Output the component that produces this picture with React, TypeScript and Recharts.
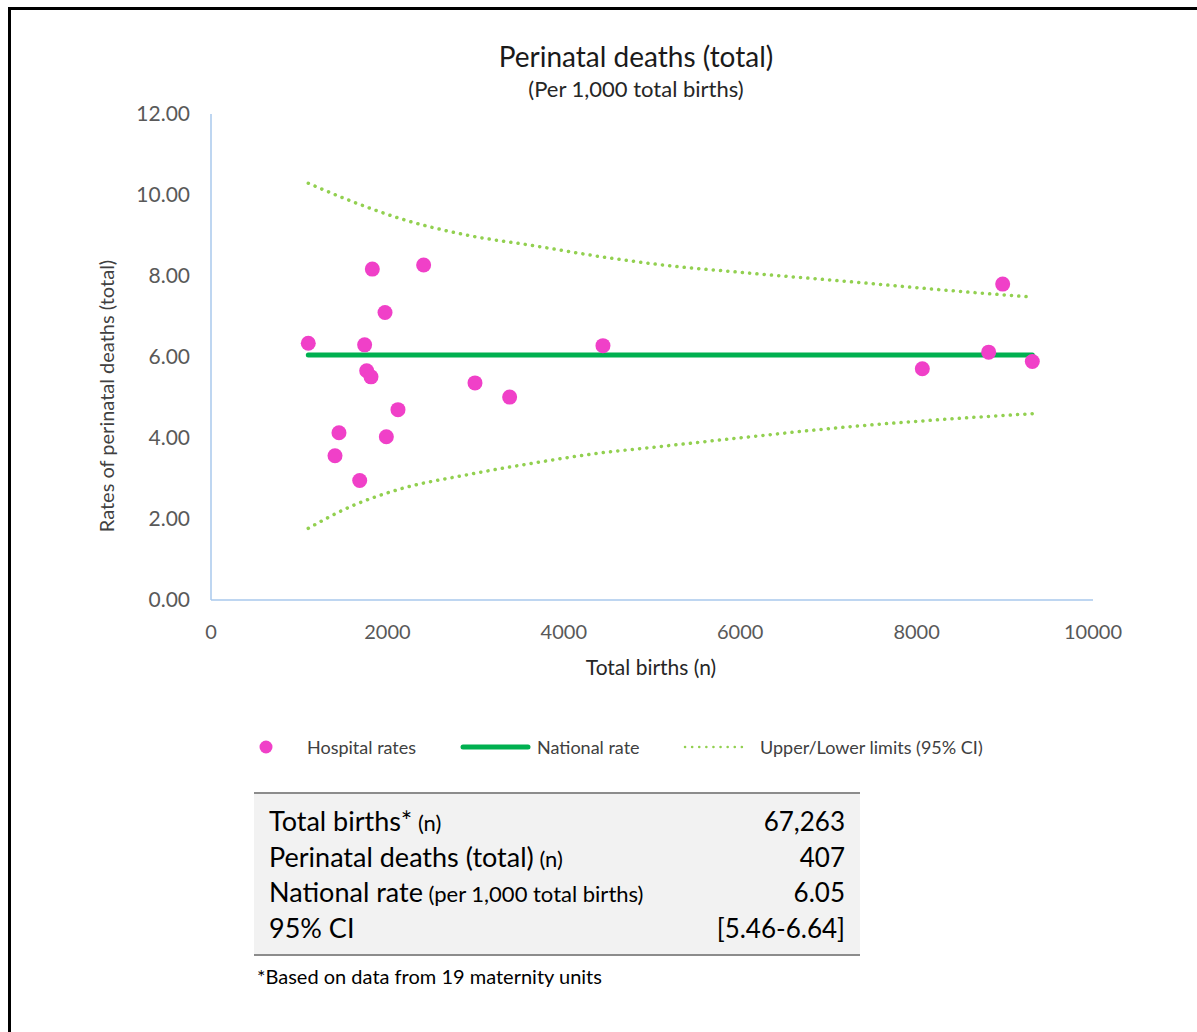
import { ComposedChart, Scatter, Line, XAxis, YAxis } from "recharts";

// hospital points: total births (n) vs rate per 1,000
const hospitalBirths = [1103, 1829, 2411, 1973, 1742, 4444, 1765, 1814, 2993, 3386, 2120, 1451, 1988, 1406, 1686, 8976, 8817, 8065, 9312];
const hospitalRates = [6.34, 8.17, 8.27, 7.10, 6.30, 6.28, 5.66, 5.51, 5.36, 5.01, 4.70, 4.13, 4.03, 3.56, 2.95, 7.80, 6.12, 5.71, 5.89];

const nationalRate = 6.05;
const nationalRange = [1103, 9312];

// funnel limits
const limitBirths = [1103, 1576, 2143, 2899, 3654, 4410, 5053, 6111, 7245, 8379, 9312];
const upperLimit = [10.29, 9.86, 9.42, 9.01, 8.75, 8.48, 8.29, 8.07, 7.86, 7.64, 7.48];
const lowerLimit = [1.77, 2.30, 2.74, 3.09, 3.38, 3.63, 3.78, 4.03, 4.28, 4.47, 4.60];

const xTicks = [0, 2000, 4000, 6000, 8000, 10000];
const yTicks = [0, 2, 4, 6, 8, 10, 12];

const summaryRows = [
  { label: "Total births*", note: "(n)", value: "67,263" },
  { label: "Perinatal deaths (total)", note: "(n)", value: "407" },
  { label: "National rate", note: "(per 1,000 total births)", value: "6.05" },
  { label: "95% CI", note: "", value: "[5.46-6.64]" },
];

const FONT = "Lato, 'Open Sans', sans-serif";
const PINK = "#F040C8";
const GREEN = "#00B050";
const LIME = "#92D050";
const AXIS = "#A9C9EC";

const points = hospitalBirths.map((x, i) => ({ x, y: hospitalRates[i] }));
const national = nationalRange.map((x) => ({ x, y: nationalRate }));
const upper = limitBirths.map((x, i) => ({ x, y: upperLimit[i] }));
const lower = limitBirths.map((x, i) => ({ x, y: lowerLimit[i] }));

const Dot = (props: any) => <circle cx={props.cx} cy={props.cy} r={7.5} fill={PINK} />;

const abs = (left: number, top: number, extra: any = {}) => ({
  position: "absolute" as const, left, top, whiteSpace: "nowrap" as const, ...extra,
});

export default function App() {
  return (
    <div style={{ position: "absolute", left: 0, top: 0, width: 1197, height: 1032, overflow: "hidden", background: "#fff", fontFamily: FONT }}>
      <div style={{ position: "absolute", left: 8, top: 7, width: 1300, height: 1100, borderLeft: "3px solid #000", borderTop: "3px solid #000" }} />

      <div style={abs(636, 56, { transform: "translate(-50%, -50%)", fontSize: 28, color: "#1a1a1a" })}>
        Perinatal deaths (total)
      </div>
      <div style={abs(636, 88, { transform: "translate(-50%, -50%)", fontSize: 22, color: "#262626" })}>
        (Per 1,000 total births)
      </div>

      <div style={{ position: "absolute", left: 0, top: 0 }}>
        <ComposedChart width={1197} height={700} margin={{ top: 114, right: 104, bottom: 60, left: 151 }}>
          <XAxis
            type="number"
            dataKey="x"
            domain={[0, 10000]}
            ticks={xTicks}
            height={40}
            tickLine={false}
            axisLine={{ stroke: AXIS, strokeWidth: 1.5 }}
            tick={{ fontSize: 20, fill: "#595959", fontFamily: FONT }}
            tickMargin={19}
          />
          <YAxis
            type="number"
            dataKey="y"
            domain={[0, 12]}
            ticks={yTicks}
            width={60}
            tickLine={false}
            axisLine={{ stroke: AXIS, strokeWidth: 1.5 }}
            tick={{ fontSize: 21, fill: "#595959", fontFamily: FONT }}
            tickMargin={15}
            tickFormatter={(v: number) => v.toFixed(2)}
          />
          <Scatter data={points} dataKey="y" shape={Dot} isAnimationActive={false} />
          <Line data={upper} dataKey="y" type="monotone" stroke={LIME} strokeWidth={3.5} strokeDasharray="0.1 7.2" strokeLinecap="round" dot={false} isAnimationActive={false} />
          <Line data={lower} dataKey="y" type="monotone" stroke={LIME} strokeWidth={3.5} strokeDasharray="0.1 7.2" strokeLinecap="round" dot={false} isAnimationActive={false} />
          <Line data={national} dataKey="y" stroke={GREEN} strokeWidth={5} strokeLinecap="round" dot={false} isAnimationActive={false} />
        </ComposedChart>
      </div>

      <div style={abs(106, 396, { transform: "translate(-50%, -50%) rotate(-90deg)", fontSize: 20, color: "#404040" })}>
        Rates of perinatal deaths (total)
      </div>
      <div style={abs(651, 666, { transform: "translate(-50%, -50%)", fontSize: 21, color: "#262626" })}>
        Total births (n)
      </div>

      {/* legend */}
      <svg style={{ position: "absolute", left: 0, top: 735 }} width={1197} height={24}>
        <circle cx={266} cy={12} r={6.5} fill={PINK} />
        <line x1={463} y1={12} x2={528} y2={12} stroke={GREEN} strokeWidth={5} strokeLinecap="round" />
        <line x1={685} y1={12} x2={748} y2={12} stroke={LIME} strokeWidth={2.5} strokeDasharray="0.1 7" strokeLinecap="round" />
      </svg>
      <div style={abs(307, 747, { transform: "translateY(-50%)", fontSize: 18, color: "#404040" })}>Hospital rates</div>
      <div style={abs(537, 747, { transform: "translateY(-50%)", fontSize: 18, color: "#404040" })}>National rate</div>
      <div style={abs(760, 747, { transform: "translateY(-50%)", fontSize: 18, color: "#404040" })}>Upper/Lower limits (95% CI)</div>

      <div style={{ position: "absolute", left: 254, top: 792, width: 606, height: 160, background: "#F2F2F2", borderTop: "2px solid #8C8C8C", borderBottom: "2px solid #8C8C8C" }}>
        <div style={{ paddingTop: 10 }}>
          {summaryRows.map((r) => (
            <div key={r.label} style={{ display: "flex", justifyContent: "space-between", alignItems: "baseline", height: 35.5, padding: "0 15px 0 15px", color: "#000" }}>
              <span style={{ fontSize: 27 }}>
                {r.label}
                {r.note ? <span style={{ fontSize: 22 }}> {r.note}</span> : null}
              </span>
              <span style={{ fontSize: 26 }}>{r.value}</span>
            </div>
          ))}
        </div>
      </div>

      <div style={abs(257, 976, { transform: "translateY(-50%)", fontSize: 20, color: "#000" })}>
        *Based on data from 19 maternity units
      </div>
    </div>
  );
}
